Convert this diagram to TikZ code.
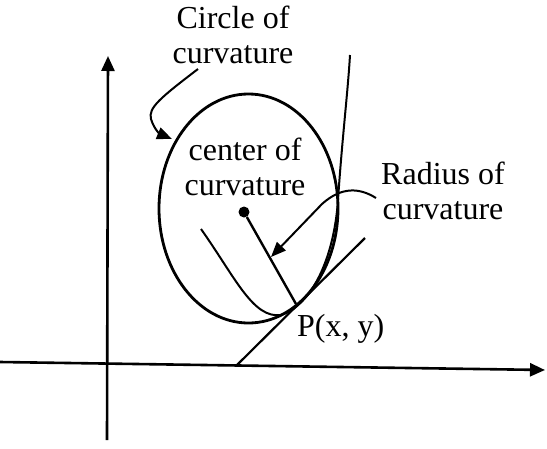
\documentclass[tikz,border=0pt]{standalone}
\usepackage{fontspec}
\setmainfont{Liberation Serif}
\usetikzlibrary{arrows.meta,shapes.geometric}
\begin{document}
\begin{tikzpicture}[x=1pt,y=-1pt,
  lbl/.style={align=center,inner sep=0pt,font=\fontsize{32}{35}\selectfont},
  axis/.style={line width=2.6pt,-{Triangle[length=15pt,width=13pt]}},
  thin/.style={line width=2pt},
  pointer/.style={line width=2pt,-{Triangle[length=15pt,width=12pt]}}]
\useasboundingbox (0,0) rectangle (547,448);
% axes
\coordinate (yb) at (107,440);
\coordinate (yt) at (108,56);
\coordinate (xl) at (0,362);
\coordinate (xr) at (545,370);
\draw[axis] (yb) -- (yt);
\draw[axis] (xl) -- (xr);
% circle of curvature
\node[draw,ellipse,line width=2.8pt,minimum width=179pt,minimum height=229pt,inner sep=0pt] (circ) at (248.5,208.5) {};
% curve
\coordinate (cs) at (201,229);
\coordinate (cm) at (281,315);
\coordinate (cx) at (338,200);
\coordinate (ce) at (350,55);
\draw[thin] (cs) .. controls (235,277) and (253,319) .. (cm)
  .. controls (312,305) and (334,258) .. (cx)
  .. controls (342,140) and (348,90) .. (ce);
% tangent
\coordinate (t1) at (237,365);
\coordinate (t2) at (365,238);
\draw[line width=2.2pt] (t1) -- (t2);
% center and radius
\node[circle,fill,inner sep=0pt,minimum size=11pt] (C) at (244,212) {};
\coordinate (P) at (296,304);
\draw[line width=2.4pt] (C) -- (P);
% labels
\node[lbl] (lcirc) at (233,35) {Circle of\\curvature};
\node[lbl] (lcen) at (245,167) {center of\\curvature};
\node[lbl] (lrad) at (443,191) {Radius of\\curvature};
\node[lbl,anchor=west] (lP) at (297,329) {P(x, y)};
% pointers
\coordinate (a1) at (198,69);
\coordinate (a1t) at (172,139);
\draw[pointer] (a1) .. controls (160,98) and (148,108) .. (151,119)
  .. controls (154,129) and (160,134) .. (a1t);
\coordinate (a2) at (376,198);
\coordinate (a2t) at (271,257);
\draw[pointer] (a2) .. controls (360,188) and (342,186) .. (322,204) -- (a2t);
\end{tikzpicture}
\end{document}
